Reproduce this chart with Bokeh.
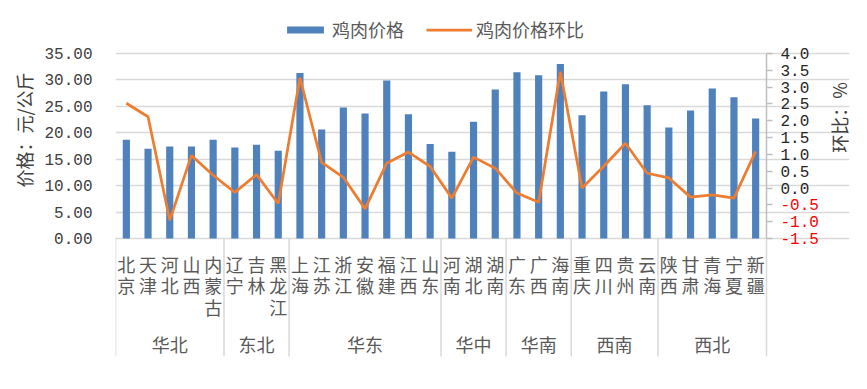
import math
from bokeh.plotting import figure
from bokeh.models import (Range1d, LinearAxis, FixedTicker, NumeralTickFormatter,
                          ColumnDataSource, Legend, LegendItem, Title)
from bokeh.core.properties import value
from bokeh.embed import file_html
from bokeh.resources import INLINE

# ---------------- data ----------------
regions = ["华北", "东北", "华东", "华中", "华南", "西南", "西北"]
region_sizes = [5, 3, 7, 3, 3, 4, 5]
provinces = ["北京", "天津", "河北", "山西", "内蒙古",
             "辽宁", "吉林", "黑龙江",
             "上海", "江苏", "浙江", "安徽", "福建", "江西", "山东",
             "河南", "湖北", "湖南",
             "广东", "广西", "海南",
             "重庆", "四川", "贵州", "云南",
             "陕西", "甘肃", "青海", "宁夏", "新疆"]
price = [18.7, 17.0, 17.4, 17.4, 18.7,
         17.2, 17.75, 16.6,
         31.3, 20.6, 24.8, 23.65, 29.9, 23.5, 17.9,
         16.4, 22.1, 28.2,
         31.45, 30.9, 33.0,
         23.3, 27.8, 29.2, 25.2,
         21.0, 24.2, 28.4, 26.7, 22.7]
mom = [2.52, 2.12, -0.96, 0.97, 0.38,
       -0.13, 0.40, -0.46,
       3.28, 0.76, 0.32, -0.62, 0.74, 1.07, 0.64,
       -0.30, 0.92, 0.59,
       -0.15, -0.42, 3.46,
       0.0, 0.65, 1.33, 0.44,
       0.30, -0.27, -0.20, -0.30, 1.09]
left_ticks = [0, 5, 10, 15, 20, 25, 30, 35]
right_ticks = [-1.5, -1.0, -0.5, 0.0, 0.5, 1.0, 1.5, 2.0, 2.5, 3.0, 3.5, 4.0]
series_names = ["鸡肉价格", "鸡肉价格环比"]
left_title = "价格：元/公斤"
right_title = "环比：%"

# ---------------- layout (figure pixels) ----------------
FL, FR, FT, FB = 115, 849, 0, 358      # frame box
BORDER_R, BORDER_B = 10, 23
Y0 = 238                 # pixel row of price 0 / ratio -1.5
PLOT_H = 185             # pixels from 0 to 35 / from -1.5 to 4.0
AXIS_X = 766             # pixel column of the right axis
PPU = PLOT_H / (left_ticks[-1] - left_ticks[0])
RPPU = PLOT_H / (right_ticks[-1] - right_ticks[0])
n = len(provinces)
CW = (AXIS_X - FL) / n

x_start = -0.5
x_end = x_start + (FR - FL) / CW
y_end = left_ticks[-1] + (Y0 - PLOT_H - FT) / PPU
y_start = -(FB - Y0) / PPU
r_end = right_ticks[-1] + (Y0 - PLOT_H - FT) / RPPU
r_start = right_ticks[0] - (FB - Y0) / RPPU

def py(pix):   # pixel row -> price data
    return (Y0 - pix) / PPU

def ry(pix):   # pixel row -> ratio data
    return right_ticks[0] + (Y0 - pix) / RPPU

def px(pix):   # pixel col -> x data
    return x_start + (pix - FL) / CW

CJK_NAME = "Noto Sans CJK SC"
CJK = value(CJK_NAME)
MONO = "Liberation Mono"
GRID = "#D9D9D9"
TXT = "#595959"

p = figure(frame_width=FR - FL, frame_height=FB - FT, title=None,
           x_range=Range1d(x_start, x_end), y_range=Range1d(y_start, y_end),
           output_backend="svg", toolbar_location=None,
           x_axis_location=None, y_axis_location="left",
           min_border_left=FL, min_border_right=BORDER_R,
           min_border_top=FT, min_border_bottom=BORDER_B)
p.outline_line_color = None
p.xgrid.visible = False
p.extra_y_ranges = {"r": Range1d(r_start, r_end)}

# left axis
la = p.yaxis[0]
la.ticker = FixedTicker(ticks=left_ticks)
la.formatter = NumeralTickFormatter(format="0.00")
la.axis_line_color = None
la.major_tick_line_color = None
la.minor_tick_line_color = None
la.major_tick_out = 0
la.major_tick_in = 0
la.major_label_standoff = 23
la.major_label_text_font = MONO
la.major_label_text_font_size = "16px"
la.major_label_text_color = "#404040"

p.add_layout(Title(text=left_title, align="left", offset=FB - 187,
                   text_font=CJK_NAME, text_font_size="18px",
                   text_font_style="normal", text_color="#404040"), "left")

p.ygrid.ticker = FixedTicker(ticks=left_ticks)
p.ygrid.grid_line_color = GRID
p.ygrid.grid_line_width = 1.5

# right axis (ticks on the axis line at the last category boundary)
ra = LinearAxis(y_range_name="r", ticker=FixedTicker(ticks=right_ticks),
                fixed_location=n - 0.5,
                major_label_overrides={t: "" for t in right_ticks})
ra.axis_line_color = None
ra.major_tick_line_color = "#BFBFBF"
ra.major_tick_line_width = 1.5
ra.major_tick_out = 6
ra.major_tick_in = 0
ra.minor_tick_line_color = None
ra.major_label_standoff = 0
p.add_layout(ra, "right")

# right tick labels (negative ones in red)
rl_src = ColumnDataSource(dict(
    x=[n - 0.5] * len(right_ticks), y=right_ticks,
    t=["%.1f" % t for t in right_ticks],
    c=["#FF0000" if t < 0 else "#262626" for t in right_ticks]))
p.text(x="x", y="y", text="t", source=rl_src, y_range_name="r",
       x_offset=14, text_align="left", text_baseline="middle",
       text_font=value(MONO), text_font_size="16px", text_color="c")
p.text(x=[px(838)], y=[ry(117)], text=[right_title], y_range_name="r",
       angle=math.pi / 2, text_align="center", text_baseline="middle",
       text_font=CJK, text_font_size="18px", text_color="#404040")

# data glyphs
src = ColumnDataSource(dict(x=list(range(n)), price=price, mom=mom,
                            lab=["\n".join(list(s)) for s in provinces]))
bars = p.vbar(x="x", top="price", bottom=0, width=0.33, source=src,
              fill_color="#4F81BD", line_color=None)
line = p.line(x="x", y="mom", source=src, y_range_name="r",
              line_color="#ED7D31", line_width=2.75)

# category axis drawn by hand
bounds = [-0.5]
for s in region_sizes:
    bounds.append(bounds[-1] + s)
sep_bottom = py(356)
p.segment(x0=bounds, x1=bounds, y0=[0] * len(bounds), y1=[sep_bottom] * len(bounds),
          line_color=GRID, line_width=1.5)
p.segment(x0=[n - 0.5], x1=[n - 0.5], y0=[left_ticks[-1]], y1=[0],
          line_color="#BFBFBF", line_width=1.5)

p.text(x="x", y=py(250), text="lab", source=src, text_align="center",
       text_baseline="top", text_font=CJK, text_font_size="18px",
       text_color=TXT, text_line_height=0.833)

centers = [(bounds[i] + bounds[i + 1]) / 2 for i in range(len(regions))]
p.text(x=centers, y=[py(343)] * len(regions), text=regions, text_align="center",
       text_baseline="middle", text_font=CJK, text_font_size="18px", text_color=TXT)

# legend
legend = Legend(items=[LegendItem(label=series_names[0], renderers=[bars]),
                       LegendItem(label=series_names[1], renderers=[line])],
                location=(167, FB - 42), orientation="horizontal",
                glyph_width=46, glyph_height=9, label_standoff=4, spacing=22,
                padding=0, margin=0, border_line_color=None,
                background_fill_alpha=0,
                label_text_font=CJK_NAME, label_text_font_size="18px",
                label_text_color=TXT)
p.add_layout(legend)

open("out.html", "w").write(file_html(p, INLINE))
